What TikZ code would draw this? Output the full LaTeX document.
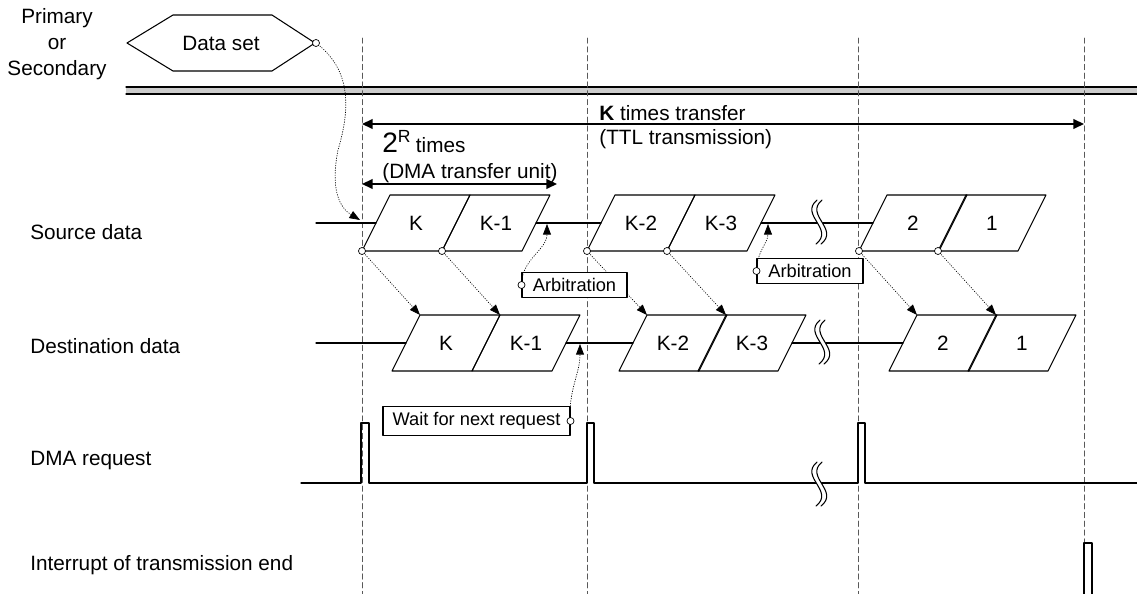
\documentclass[tikz,border=0pt]{standalone}
\usepackage{fontspec}
\setmainfont{Liberation Sans}
\usepackage{tikz}
\usetikzlibrary{arrows.meta}
\definecolor{cccccc}{rgb}{0.8,0.8,0.8}
\definecolor{wvwvwv}{rgb}{0.35,0.35,0.35}
\newcommand{\blk}[4]{%
\coordinate (#1-bl) at (#2,#3);
\coordinate (#1-tl) at (#2+28,#3-56);
\coordinate (#1-l) at (#2+14,#3-28);
\coordinate (#1-r) at (#2+94,#3-28);
\draw [line width=0.6pt] (#1-bl) -- (#1-tl) -- ++(80,0) -- ++(-28,56) -- cycle;
\node (#1) at (#2+54,#3-28) {#4};}
\newcommand{\brk}[2]{%
\fill [white] (#1,#2-22) .. controls (#1-18,#2-7) and (#1+18,#2+7) .. (#1-1,#2+22) -- (#1+4,#2+22) .. controls (#1+23,#2+7) and (#1-13,#2-7) .. (#1+5,#2-22) -- cycle;
\draw [line width=0.6pt] (#1,#2-22) .. controls (#1-18,#2-7) and (#1+18,#2+7) .. (#1-1,#2+22);
\draw [line width=0.6pt] (#1+5,#2-22) .. controls (#1-13,#2-7) and (#1+23,#2+7) .. (#1+4,#2+22);}

\begin{document}
\begin{tikzpicture}[line cap=round,line join=round,x=0.02cm,y=-0.02cm,font=\fontsize{11.8}{14}\selectfont,
guide/.style={wvwvwv,line width=0.5pt,dash pattern=on 3pt off 2pt},
dim/.style={<->,>={Triangle[length=6pt,width=5.5pt]},line width=0.8pt},
lead/.style={->,>={Triangle[length=6pt,width=4.5pt]},line width=0.4pt,densely dotted},
note/.style={draw,fill=white,line width=0.6pt,font=\fontsize{10.4}{12}\selectfont,minimum height=0.48cm,inner xsep=0pt}]
\useasboundingbox (0,0) rectangle (1137,594);
\fill [cccccc] (126,87) rectangle (1137,94);
\draw [line width=0.6pt] (126,87) -- (1137,87);
\draw [line width=0.6pt] (126,94) -- (1137,94);
\draw [guide] (362,38) -- (362,594);
\draw [guide] (587,38) -- (587,594);
\draw [guide] (858,38) -- (858,594);
\draw [guide] (1084,38) -- (1084,594);
\node [align=center,font=\fontsize{11.8}{14.8}\selectfont] (ps) at (57,44) {Primary\\or\\Secondary};
\draw [line width=0.6pt] (127,43) -- (173,15) -- (272,15) -- (315,43) -- (272,71) -- (173,71) -- cycle;
\node (dataset) at (221,43) {Data set};
\coordinate (dsout) at (316,43);
\coordinate (kl) at (362,124);
\coordinate (kr) at (1084,124);
\draw [dim] (kl) -- (kr);
\node [anchor=west,inner sep=0] (ktimes) at (599,113) {\textbf{K} times transfer};
\node [anchor=west,inner sep=0] (ttl) at (599,139) {(TTL transmission)};
\node [anchor=base west,inner sep=0] (rtimes) at (382,153) {\fontsize{16}{18}\selectfont 2\raisebox{6pt}{\fontsize{10}{12}\selectfont R}\hspace{3pt}\fontsize{11.8}{14}\selectfont times};
\node [anchor=west,inner sep=0] (unit) at (382,173) {(DMA transfer unit)};
\coordinate (ul) at (362,184);
\coordinate (ur) at (557,184);
\draw [dim] (ul) -- (ur);
\node [anchor=west,inner sep=0] (src) at (30,232) {Source data};
\node [anchor=west,inner sep=0] (dst) at (30,346) {Destination data};
\node [anchor=west,inner sep=0] (req) at (30,461) {DMA request};
\node [anchor=west,inner sep=0] (irq) at (30,565) {Interrupt of transmission end};
\blk{sK}{362}{251}{K}
\blk{sKa}{442}{251}{K-1}
\blk{sKb}{587}{251}{K-2}
\blk{sKc}{667}{251}{K-3}
\blk{sB}{859}{251}{2}
\blk{sA}{938}{251}{1}
\blk{dK}{392}{371}{K}
\blk{dKa}{472}{371}{K-1}
\blk{dKb}{619}{371}{K-2}
\blk{dKc}{698}{371}{K-3}
\blk{dB}{889}{371}{2}
\blk{dA}{968}{371}{1}
\coordinate (srcin) at (316,223);
\coordinate (dstin) at (316,343);
\draw [line width=0.6pt] (srcin) -- (sK-l);
\draw [line width=0.6pt] (sKa-r) -- (sKb-l);
\draw [line width=0.6pt] (sKc-r) -- (sB-l);
\draw [line width=0.6pt] (dstin) -- (dK-l);
\draw [line width=0.6pt] (dKa-r) -- (dKb-l);
\draw [line width=0.6pt] (dKc-r) -- (dB-l);
\brk{817}{222}
\brk{820}{342}
\draw [lead] (sK-bl) -- (dK-tl);
\draw [lead] (sKa-bl) -- (dKa-tl);
\draw [lead] (sKb-bl) -- (dKb-tl);
\draw [lead] (sKc-bl) -- (dKc-tl);
\draw [lead] (sB-bl) -- (dB-tl);
\draw [lead] (sA-bl) -- (dA-tl);
\coordinate (srctip) at (360,220);
\draw [lead] (dsout) .. controls (352,70) and (350,110) .. (338,150) .. controls (330,190) and (340,208) .. (srctip);
\coordinate (arbtipa) at (547,224);
\coordinate (arbtipb) at (768,224);
\coordinate (waittip) at (580,344);
\node [note,minimum width=2.1cm] (arba) at (574.5,285) {Arbitration};
\node [note,minimum width=2.12cm] (arbb) at (810,271) {Arbitration};
\node [note,minimum width=3.74cm] (wait) at (476.5,421) {Wait for next request};
\draw [lead] (arba.west) to [out=90,in=-90] (arbtipa);
\draw [lead] (arbb.west) to [out=90,in=-90] (arbtipb);
\draw [lead] (wait.east) to [out=95,in=-90] (waittip);
\coordinate (reqin) at (301,483);
\coordinate (reqout) at (1137,483);
\draw [line width=0.6pt] (reqin) -- (361,483) -- ++(0,-60) -- ++(8,0) -- ++(0,60) -- (587,483) -- ++(0,-60) -- ++(7,0) -- ++(0,60) -- (858,483) -- ++(0,-60) -- ++(7,0) -- ++(0,60) -- (reqout);
\brk{817}{484}
\draw [line width=0.6pt] (1084,600) -- (1084,543) -- (1092,543) -- (1092,600);
\begin{scriptsize}
\draw [fill=white] (dsout) circle (2pt);
\draw [fill=white] (sK-bl) circle (2pt);
\draw [fill=white] (sKa-bl) circle (2pt);
\draw [fill=white] (sKb-bl) circle (2pt);
\draw [fill=white] (sKc-bl) circle (2pt);
\draw [fill=white] (sB-bl) circle (2pt);
\draw [fill=white] (sA-bl) circle (2pt);
\draw [fill=white] (arba.west) circle (2pt);
\draw [fill=white] (arbb.west) circle (2pt);
\draw [fill=white] (wait.east) circle (2pt);
\end{scriptsize}
\end{tikzpicture}
\end{document}
